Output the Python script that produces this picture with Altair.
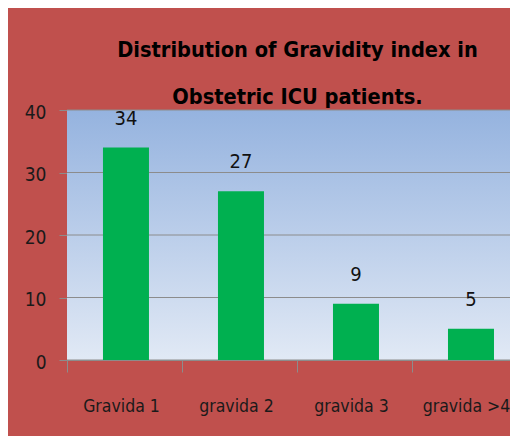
import altair as alt
import pandas as pd

categories = ["Gravida 1", "gravida 2", "gravida 3", "gravida >4"]
counts = [34, 27, 9, 5]
y_ticks = [0, 10, 20, 30, 40]
title_lines = ["Distribution of Gravidity index in", "Obstetric ICU patients."]

df = pd.DataFrame({"cat": categories, "n": counts})
grid_df = pd.DataFrame({"v": y_ticks})
one_df = pd.DataFrame({"a": [0]})

FONT = "DejaVu Sans Condensed, Liberation Sans, sans-serif"
GREY = "#8C8C8C"
W, H = 443, 250

xscale = alt.Scale(domain=categories, paddingInner=0.6, paddingOuter=0.226, align=0.692)
yscale = alt.Scale(domain=[0, 40], nice=False)

x_axis = alt.Axis(
    title=None, labelAngle=0, labelFont=FONT, labelFontSize=17.5, labelColor="#1a1a1a",
    tickSize=12, tickOffset=-59, labelOffset=54, tickColor=GREY, domainColor=GREY,
    labelPadding=25, labelBaseline="top", grid=False,
)
y_axis = alt.Axis(
    title=None, values=y_ticks, grid=False, labelFont=FONT, labelFontSize=19,
    labelColor="#1a1a1a", tickSize=8, tickColor=GREY, domainColor=GREY,
    labelPadding=13, labelOffset=2,
)

bg = alt.Chart(one_df).mark_rect(
    fill=alt.Gradient(
        gradient="linear",
        stops=[alt.GradientStop(color="#95B3DF", offset=0),
               alt.GradientStop(color="#E1E9F5", offset=1)],
        x1=0, x2=0, y1=0, y2=1,
    )
).encode(x=alt.value(0), x2=alt.value("width"), y=alt.value(0), y2=alt.value("height"))

rules = alt.Chart(grid_df).mark_rule(color=GREY, strokeWidth=1).encode(
    y=alt.Y("v:Q", scale=yscale, axis=y_axis)
)

bars = alt.Chart(df).mark_bar(color="#00B050").encode(
    x=alt.X("cat:N", scale=xscale, sort=categories, axis=x_axis),
    y=alt.Y("n:Q", scale=yscale, axis=y_axis),
)

text = alt.Chart(df).mark_text(
    font=FONT, fontSize=20, dy=-23, baseline="alphabetic", color="#111111"
).encode(
    x=alt.X("cat:N", scale=xscale, sort=categories, axis=x_axis),
    y=alt.Y("n:Q", scale=yscale, axis=y_axis),
    text="n:Q",
)

chart = alt.layer(bg, rules, bars, text).properties(
    width=W, height=H,
    title=alt.TitleParams(
        text=title_lines, font=FONT, fontSize=21.6, fontWeight="bold", color="#000000",
        lineHeight=47, anchor="middle", baseline="bottom", offset=-2, dx=9, dy=26,
    ),
).configure(
    background="#C0504D",
    padding={"left": 59, "top": 102, "right": 0, "bottom": 76},
    autosize="none",
).configure_view(stroke=None)

chart.save("out.html", embed_options={"renderer": "svg", "actions": False})
